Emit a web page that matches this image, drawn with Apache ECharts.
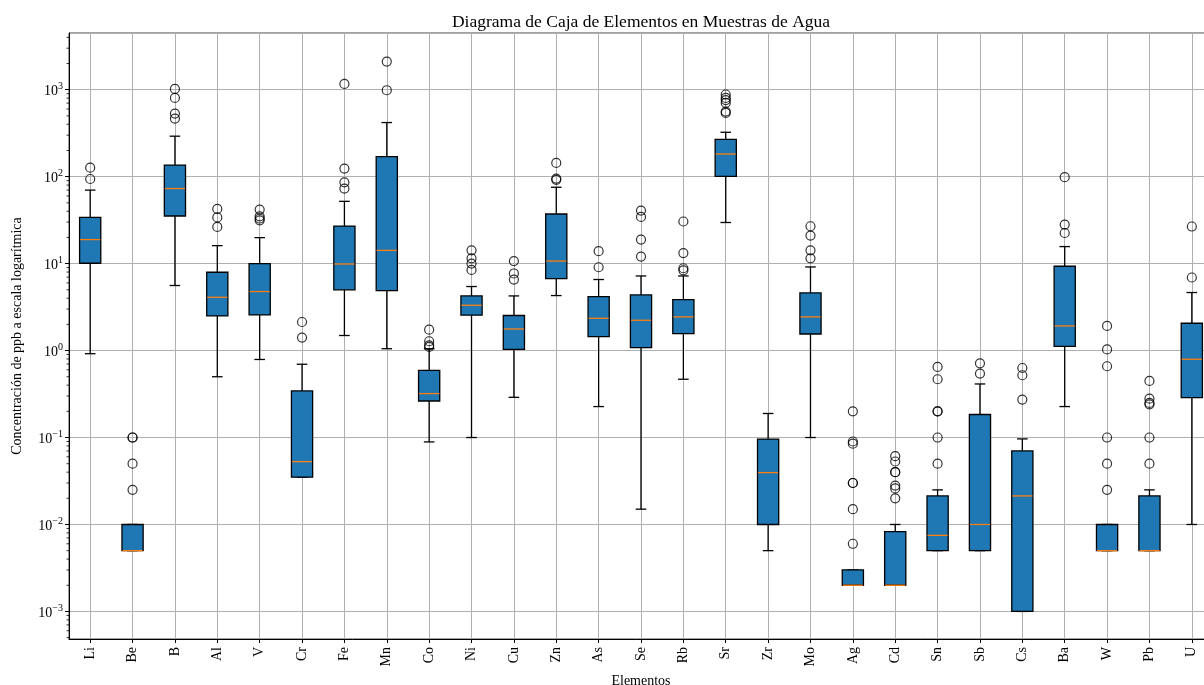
<!DOCTYPE html>
<html>
<head>
<meta charset="utf-8">
<script src="https://cdn.jsdelivr.net/npm/echarts@6/dist/echarts.min.js"></script>
<style>
html,body{margin:0;padding:0;background:#fff;}
#chart{width:1204px;height:685px;}
</style>
</head>
<body>
<div id="chart"></div>
<script>
const elements = ['Li','Be','B','Al','V','Cr','Fe','Mn','Co','Ni','Cu','Zn','As','Se','Rb','Sr','Zr','Mo','Ag','Cd','Sn','Sb','Cs','Ba','W','Pb','U'];
const whiskerLow  = [0.92, 0.005, 5.6, 0.5, 0.79, 0.035, 1.49, 1.05, 0.089, 0.1, 0.29, 4.29, 0.227, 0.015, 0.468, 29.7, 0.005, 0.1, 0.002, 0.002, 0.005, 0.005, 0.001, 0.227, 0.005, 0.005, 0.01];
const q1          = [10.1, 0.005, 35.3, 2.5, 2.57, 0.035, 5.0, 4.9, 0.263, 2.55, 1.03, 6.73, 1.45, 1.08, 1.57, 101, 0.01, 1.55, 0.002, 0.002, 0.005, 0.005, 0.001, 1.12, 0.005, 0.005, 0.288];
const median      = [18.9, 0.005, 73, 4.1, 4.77, 0.0528, 9.9, 14.2, 0.32, 3.32, 1.77, 10.7, 2.35, 2.23, 2.44, 182, 0.0395, 2.44, 0.002, 0.002, 0.0075, 0.01, 0.0213, 1.92, 0.005, 0.005, 0.794];
const q3          = [34, 0.01, 136, 7.95, 10, 0.343, 27, 170, 0.593, 4.25, 2.53, 37.2, 4.18, 4.36, 3.86, 269, 0.096, 4.6, 0.003, 0.00828, 0.0213, 0.184, 0.0701, 9.33, 0.01, 0.0213, 2.06];
const whiskerHigh = [70, 0.01, 292, 16.1, 19.9, 0.696, 52, 419, 1.05, 5.45, 4.25, 75.5, 6.56, 7.21, 7.21, 324, 0.189, 9.15, 0.003, 0.01, 0.025, 0.413, 0.0964, 15.7, 0.01, 0.025, 4.65];
const outlierValues = [
  [94, 127],
  [0.025, 0.05, 0.1, 0.1],
  [466, 532, 804, 1020],
  [26.4, 34, 42.5],
  [31.5, 33, 35, 41.8],
  [1.41, 2.13],
  [73, 86, 124, 1164],
  [986, 2108],
  [1.1, 1.15, 1.28, 1.74],
  [8.45, 10, 11.5, 14.2],
  [6.56, 7.7, 10.7],
  [92, 95, 144],
  [9.08, 13.9],
  [12.05, 18.9, 34.4, 40.7],
  [8.38, 8.84, 13.2, 30.5],
  [541, 560, 704, 760, 804, 880],
  [],
  [11.5, 14.2, 21, 26.9],
  [0.006, 0.015, 0.03, 0.03, 0.085, 0.09, 0.2],
  [0.02, 0.026, 0.028, 0.04, 0.04, 0.053, 0.061],
  [0.05, 0.1, 0.2, 0.2, 0.468, 0.648],
  [0.544, 0.714],
  [0.273, 0.52, 0.63],
  [22.5, 28.1, 98.5],
  [0.025, 0.05, 0.1, 0.66, 1.03, 1.92],
  [0.05, 0.1, 0.241, 0.25, 0.28, 0.447],
  [6.92, 26.7]
];
// log-axis minor tick positions (axis decoration)
const minorMultipliers = [2, 3, 4, 5, 6, 7, 8, 9];
const minorDecades = [-4, -3, -2, -1, 0, 1, 2, 3];
const yMin = Math.pow(10, -3.317);
const yMax = Math.pow(10, 3.652);

const boxData = elements.map((e, i) => [i, whiskerLow[i], q1[i], median[i], q3[i], whiskerHigh[i]]);
const outlierData = [];
outlierValues.forEach((arr, i) => arr.forEach(v => outlierData.push([i, v])));
const minorData = [];
minorDecades.forEach(d => minorMultipliers.forEach(m => {
  const v = m * Math.pow(10, d);
  if (v > yMin && v < yMax) minorData.push([0, v]);
}));

const sup = {'-':'\u2212','0':'0','1':'1','2':'2','3':'3','4':'4','5':'5','6':'6','7':'7','8':'8','9':'9'};
function fmt(v) {
  const e = Math.round(Math.log10(v));
  return '{b|10}{s|' + String(e).split('').map(c => sup[c]).join('') + '}';
}

const FONT = '"Liberation Serif", "DejaVu Serif", serif';
const chart = echarts.init(document.getElementById('chart'), null, {renderer: 'canvas'});
chart.setOption({
  animation: false,
  backgroundColor: '#ffffff',
  textStyle: {fontFamily: FONT},
  title: {
    text: 'Diagrama de Caja de Elementos en Muestras de Agua',
    left: 636, top: 8, textAlign: 'center',
    textStyle: {fontFamily: FONT, fontSize: 17.5, fontWeight: 'normal', color: '#000'}
  },
  grid: {left: 69, top: 33, width: 1144, height: 606, outerBoundsMode: 'none', containLabel: false, show: true, borderColor: '#444', borderWidth: 1, backgroundColor: 'transparent'},
  xAxis: {
    type: 'category',
    data: elements,
    boundaryGap: true,
    name: 'Elementos',
    nameLocation: 'middle',
    nameGap: 33,
    nameTextStyle: {fontFamily: FONT, fontSize: 14, color: '#000'},
    axisLine: {show: true, lineStyle: {color: '#000', width: 1}},
    axisTick: {show: true, alignWithLabel: true, length: 4, lineStyle: {color: '#000'}},
    axisLabel: {rotate: 90, fontFamily: FONT, fontSize: 14, color: '#000', margin: 8, interval: 0},
    splitLine: {show: true, alignWithLabel: true, lineStyle: {color: '#b0b0b0', width: 1}}
  },
  yAxis: {
    type: 'log',
    logBase: 10,
    min: yMin,
    max: yMax,
    name: 'Concentración de ppb a escala logarítmica',
    nameLocation: 'middle',
    nameGap: 45,
    nameTextStyle: {fontFamily: FONT, fontSize: 14, color: '#000'},
    axisLine: {show: true, lineStyle: {color: '#000', width: 1}},
    axisTick: {show: true, length: 4, lineStyle: {color: '#000'}},
    minorTick: {show: false},
    axisLabel: {
      color: '#000', margin: 6, formatter: fmt, showMinLabel: false, showMaxLabel: false,
      rich: {
        b: {fontFamily: FONT, fontSize: 14, color: '#000', lineHeight: 17, verticalAlign: 'bottom'},
        s: {fontFamily: FONT, fontSize: 10, color: '#000', lineHeight: 17, verticalAlign: 'top'}
      }
    },
    splitLine: {show: true, lineStyle: {color: '#b0b0b0', width: 1}}
  },
  series: [
    {
      type: 'custom',
      data: boxData,
      encode: {x: 0, y: [1, 2, 3, 4, 5]},
      z: 3,
      renderItem: function (params, api) {
        const i = api.value(0);
        const pLow = api.coord([i, api.value(1)]);
        const pQ1 = api.coord([i, api.value(2)]);
        const pMed = api.coord([i, api.value(3)]);
        const pQ3 = api.coord([i, api.value(4)]);
        const pHigh = api.coord([i, api.value(5)]);
        const band = api.size([1, 0])[0];
        const bw = band * 0.5;
        const cw = bw * 0.5;
        const x = pQ1[0];
        const ls = {stroke: '#000', lineWidth: 1.3};
        return {
          type: 'group',
          children: [
            {type: 'line', shape: {x1: x, y1: pQ1[1], x2: x, y2: pLow[1]}, style: ls},
            {type: 'line', shape: {x1: x, y1: pQ3[1], x2: x, y2: pHigh[1]}, style: ls},
            {type: 'line', shape: {x1: x - cw / 2, y1: pLow[1], x2: x + cw / 2, y2: pLow[1]}, style: ls},
            {type: 'line', shape: {x1: x - cw / 2, y1: pHigh[1], x2: x + cw / 2, y2: pHigh[1]}, style: ls},
            {type: 'rect', shape: {x: x - bw / 2, y: pQ3[1], width: bw, height: pQ1[1] - pQ3[1]}, style: {fill: '#1f77b4', stroke: '#000', lineWidth: 1.3}},
            {type: 'line', shape: {x1: x - bw / 2 + 0.5, y1: pMed[1], x2: x + bw / 2 - 0.5, y2: pMed[1]}, style: {stroke: '#ff7f0e', lineWidth: 1.3}}
          ]
        };
      }
    },
    {
      type: 'scatter',
      data: outlierData,
      symbol: 'circle',
      symbolSize: 9,
      z: 4,
      itemStyle: {color: 'rgba(0,0,0,0)', borderColor: '#000', borderWidth: 1.2}
    },
    {
      type: 'custom',
      data: minorData,
      encode: {x: 0, y: 1},
      clip: false,
      silent: true,
      z: 5,
      renderItem: function (params, api) {
        const y = api.coord([0, api.value(1)])[1];
        const x0 = params.coordSys.x;
        return {type: 'line', shape: {x1: x0 - 2.5, y1: y, x2: x0, y2: y}, style: {stroke: '#000', lineWidth: 0.8}};
      }
    }
  ]
});
</script>
</body>
</html>
